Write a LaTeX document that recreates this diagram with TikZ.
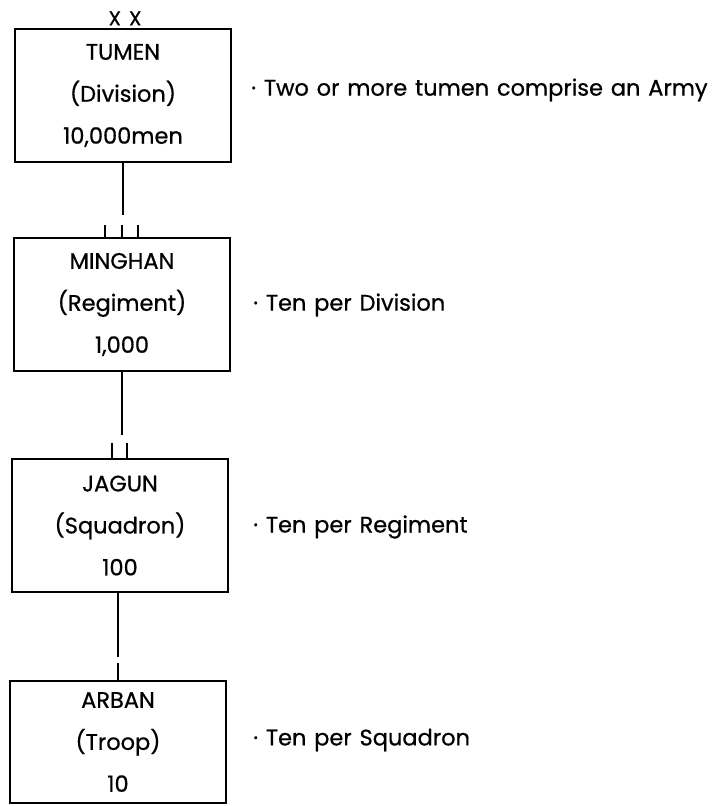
\documentclass[tikz,border=0pt]{standalone}
\usepackage{fontspec}
\setmainfont{Poppins}[WordSpace=1.3,FakeBold=0.7]
\usetikzlibrary{calc}
\begin{document}
\begin{tikzpicture}[x=1pt,y=-1pt,line width=2.6pt,
    unitbox/.style={draw,rectangle,minimum width=216pt,minimum height=133pt,
      inner sep=0pt,align=center,font=\fontsize{22.5}{42}\selectfont},
    note/.style={anchor=west,inner sep=0pt,font=\fontsize{22.5}{26}\selectfont},
    rank/.style={line width=2.2pt}]
  \useasboundingbox (0,0) rectangle (715,806);
  \begin{scope}[every node/.style={unitbox}]
    \node (tumen) at (123,95.5) {TUMEN\\(Division)\\10,000men};
    \node (minghan) at (122,304.5) {MINGHAN\\(Regiment)\\1,000};
    \node (jagun) at (120,525.5) {JAGUN\\(Squadron)\\100};
    \node[minimum height=122pt] (arban) at (118,742) {ARBAN\\(Troop)\\10};
  \end{scope}
  \node[anchor=south,inner sep=0pt,font=\fontsize{20}{22}\selectfont] (xx) at ($(tumen.north)+(2,-1)$) {X\hspace{8pt}X};
  \coordinate (t1) at (123,215);
  \coordinate (t2) at (122,435);
  \coordinate (t3) at (118,657);
  \begin{scope}[every edge/.style={draw=black,line width=2.6pt}]
    \path (tumen) edge (t1);
    \path (minghan) edge (t2);
    \path (jagun.south -| t3) edge (t3);
  \end{scope}
  \foreach \dx in {-17,0,16}
    \draw[rank] ($(minghan.north)+(\dx,0)$) -- ++(0,-12);
  \foreach \dx in {-8,7}
    \draw[rank] ($(jagun.north)+(\dx,0)$) -- ++(0,-15);
  \draw[rank] (arban.north) -- ++(0,-17);
  \node[note] (n1) at (250,90) {· Two or more tumen comprise an Army};
  \node[note] (n2) at (252,305) {· Ten per Division};
  \node[note] (n3) at (252,527) {· Ten per Regiment};
  \node[note] (n4) at (252,740) {· Ten per Squadron};
\end{tikzpicture}
\end{document}
